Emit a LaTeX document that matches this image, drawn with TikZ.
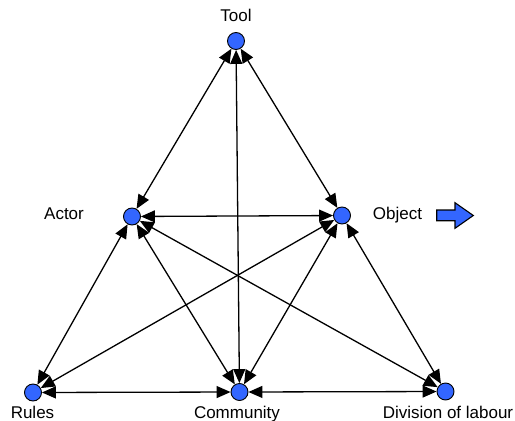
\documentclass[tikz,border=0pt]{standalone}
\usepackage{fontspec}
\setmainfont{Liberation Sans}
\usetikzlibrary{arrows.meta}
\definecolor{dotblue}{RGB}{51,102,255}
\tikzset{
  dot/.style={circle, draw=black, line width=0.9pt, fill=dotblue, minimum size=17pt, inner sep=0pt},
  lbl/.style={anchor=base, inner sep=0pt, font=\fontsize{17pt}{20pt}\selectfont},
  tip/.style={Triangle[length=14pt,width=12pt]},
  link/.style={line width=1.3pt, {Triangle[length=14pt,width=12pt]}-{Triangle[length=14pt,width=12pt]}},
}
\begin{document}
\begin{tikzpicture}[x=1pt,y=-1pt]
\useasboundingbox (0,0) rectangle (515,421);
% activity system nodes
\node[dot] (tool) at (236,41) {};
\node[dot] (actor) at (132,216.5) {};
\node[dot] (object) at (342,215.5) {};
\node[dot] (rules) at (33,392.5) {};
\node[dot] (community) at (239.5,392) {};
\node[dot] (division) at (445.5,391.5) {};
% labels
\node[lbl] (ltool) at (236,21) {Tool};
\node[lbl] (lactor) at (64,219) {Actor};
\node[lbl] (lobject) at (397.5,219) {Object};
\node[lbl] (lrules) at (32.5,418) {Rules};
\node[lbl] (lcommunity) at (237,418) {Community};
\node[lbl] (ldivision) at (448,418) {Division of labour};
% mediating links
\draw[link] (tool) -- (actor);
\draw[link] (tool) -- (object);
\draw[link] (tool) -- (community);
\draw[link] (actor) -- (object);
\draw[link] (actor) -- (rules);
\draw[link] (actor) -- (community);
\draw[link] (actor) -- (division);
\draw[link] (object) -- (rules);
\draw[link] (object) -- (community);
\draw[link] (object) -- (division);
\draw[link] (rules) -- (community);
\draw[link] (community) -- (division);
% outcome arrow
\draw[line width=1.1pt, fill=dotblue, line join=miter]
  (436.7,210) -- (455,210) -- (455,202.7) -- (473.3,215.5) -- (455,228.3)
  -- (455,220.7) -- (436.7,220.7) -- cycle;
\end{tikzpicture}
\end{document}
